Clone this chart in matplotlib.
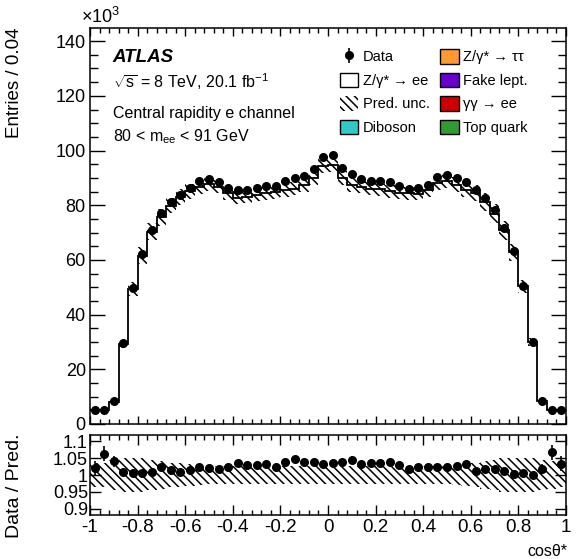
import matplotlib
matplotlib.use("Agg")
import matplotlib.pyplot as plt
from matplotlib.patches import Patch
from matplotlib.ticker import MultipleLocator, FuncFormatter
import numpy as np

plt.rcParams["font.family"] = ["Liberation Sans", "DejaVu Sans"]
plt.rcParams["mathtext.fontset"] = "custom"
plt.rcParams["mathtext.rm"] = "Liberation Sans"
plt.rcParams["mathtext.it"] = "Liberation Sans:italic"
plt.rcParams["mathtext.bf"] = "Liberation Sans:bold"
plt.rcParams["axes.unicode_minus"] = False
plt.rcParams["hatch.linewidth"] = 1.1

# 50 bins of width 0.04 in cos(theta*)
bin_edges = np.linspace(-1.0, 1.0, 51)

# entries in units of 10^3
data_k = [5.3, 5.3, 8.5, 29.5, 49.8, 62.0, 70.9, 77.3, 81.0, 83.7,
          86.4, 88.7, 89.6, 88.4, 86.3, 85.7, 85.4, 86.3, 87.1, 86.9,
          88.8, 90.1, 90.6, 93.4, 97.6, 98.2, 93.5, 91.4, 89.6, 89.0,
          88.8, 88.4, 86.9, 85.9, 86.2, 87.4, 90.2, 90.9, 90.0, 88.4,
          85.6, 82.6, 78.3, 71.7, 63.1, 50.6, 30.0, 8.5, 5.3, 5.3]
data_err_k = [0.11, 0.11, 0.13, 0.17, 0.22, 0.25, 0.27, 0.28, 0.28, 0.29,
              0.29, 0.30, 0.30, 0.30, 0.29, 0.29, 0.29, 0.29, 0.30, 0.29,
              0.30, 0.30, 0.30, 0.31, 0.31, 0.31, 0.31, 0.30, 0.30, 0.30,
              0.30, 0.30, 0.29, 0.29, 0.29, 0.30, 0.30, 0.30, 0.30, 0.30,
              0.29, 0.29, 0.28, 0.27, 0.25, 0.22, 0.17, 0.13, 0.11, 0.11]
pred_k = [5.20, 4.99, 8.17, 29.24, 49.45, 61.57, 70.27, 75.56, 79.88, 82.95,
          85.04, 86.54, 87.84, 86.84, 84.36, 82.72, 83.07, 83.79, 84.32, 84.78,
          85.55, 86.06, 87.28, 89.98, 94.48, 94.88, 90.08, 87.46, 86.74, 85.99,
          85.80, 85.16, 84.53, 84.38, 84.26, 85.43, 88.17, 88.86, 87.55, 85.74,
          84.58, 81.14, 76.92, 70.85, 62.85, 50.30, 30.03, 8.35, 4.97, 5.13]
# relative prediction uncertainty
pred_unc = [0.035, 0.035, 0.045, 0.050, 0.050, 0.050, 0.045, 0.040, 0.035, 0.035,
            0.032, 0.030, 0.028, 0.028, 0.028, 0.028, 0.028, 0.028, 0.028, 0.028,
            0.028, 0.028, 0.028, 0.028, 0.028, 0.028, 0.028, 0.028, 0.028, 0.028,
            0.028, 0.028, 0.028, 0.028, 0.028, 0.028, 0.028, 0.028, 0.030, 0.032,
            0.035, 0.040, 0.045, 0.050, 0.050, 0.050, 0.050, 0.045, 0.040, 0.035]

bkg_names = ["Diboson", "Z/γ* → ττ", "Fake lept.", "γγ → ee", "Top quark"]
bkg_colors = ["#33c9cc", "#ff9933", "#6600cc", "#cc0000", "#339933"]

centers = 0.5 * (bin_edges[1:] + bin_edges[:-1])
data = np.array(data_k)
err = np.array(data_err_k)
pred = np.array(pred_k)
unc = np.array(pred_unc)
hatch = "\\\\\\\\"

fig = plt.figure(figsize=(5.76, 5.59), dpi=100)
ax = fig.add_axes([90 / 576, 135 / 559, 476 / 576, 395.7 / 559])
rax = fig.add_axes([90 / 576, 44 / 559, 476 / 576, 80 / 559])

# main panel
ax.stairs(pred * (1 + unc), bin_edges, baseline=pred * (1 - unc), fill=True,
          facecolor="none", edgecolor="black", hatch=hatch, linewidth=0)
ax.stairs(pred, bin_edges, baseline=None, color="black", linewidth=1.3)
data_handle = ax.errorbar(centers, data, yerr=err, fmt="o", color="black",
                          ms=5.5, elinewidth=1.2, capsize=0)
ax.set_xlim(-1, 1)
ax.set_ylim(0, 144.7)

# ratio panel
rax.stairs(1 + unc, bin_edges, baseline=1 - unc, fill=True,
           facecolor="none", edgecolor="black", hatch=hatch, linewidth=0)
rax.errorbar(centers, data / pred, yerr=err / pred, fmt="o", color="black",
             ms=5.5, elinewidth=1.2, capsize=0)
rax.set_xlim(-1, 1)
rax.set_ylim(0.882, 1.118)

fmt = FuncFormatter(lambda v, p: f"{round(v, 2) + 0.0:g}")
for a in (ax, rax):
    a.xaxis.set_major_locator(MultipleLocator(0.2))
    a.xaxis.set_minor_locator(MultipleLocator(0.04))
    a.tick_params(which="both", direction="in", top=True, right=True, width=1)
    for s in a.spines.values():
        s.set_linewidth(1.1)

ax.yaxis.set_major_locator(MultipleLocator(20))
ax.yaxis.set_minor_locator(MultipleLocator(5))
ax.tick_params(axis="x", which="major", length=6, labelbottom=False)
ax.tick_params(axis="x", which="minor", length=3.5)
ax.tick_params(axis="y", which="major", length=10.5, labelsize=13, pad=3)
ax.tick_params(axis="y", which="minor", length=5.5)

rax.yaxis.set_major_locator(MultipleLocator(0.05))
rax.yaxis.set_major_formatter(fmt)
rax.xaxis.set_major_formatter(fmt)
rax.tick_params(axis="x", which="major", length=7, labelsize=13.5, pad=3)
rax.tick_params(axis="x", which="minor", length=3.5)
rax.tick_params(axis="y", which="major", length=8, labelsize=13, pad=1.5)

ax.text(-0.018, 1.004, "×10$^{3}$", transform=ax.transAxes, ha="left",
        va="bottom", fontsize=13)
fig.text(15 / 576, 1 - 28 / 559, "Entries / 0.04", rotation=90, ha="center",
         va="top", fontsize=13.5)
fig.text(15 / 576, 1 - 486 / 559, "Data / Pred.", rotation=90, ha="center",
         va="center", fontsize=14)
fig.text(567 / 576, 1 - 556 / 559, "cosθ*", ha="right", va="baseline",
         fontsize=11.5)

ax.text(0.048, 0.915, "ATLAS", transform=ax.transAxes, fontsize=13.5,
        fontweight="bold", fontstyle="italic")
ax.text(0.048, 0.849, r"$\sqrt{\mathrm{s}}$ = 8 TeV, 20.1 fb$^{-1}$",
        transform=ax.transAxes, fontsize=11.5)
ax.text(0.048, 0.773, "Central rapidity e channel", transform=ax.transAxes,
        fontsize=11.5)
ax.text(0.048, 0.715, r"80 < m$_{\mathrm{ee}}$ < 91 GeV", transform=ax.transAxes,
        fontsize=11.5)

handles = [data_handle,
           Patch(facecolor="white", edgecolor="black", linewidth=1),
           Patch(facecolor="white", edgecolor="black", hatch=hatch, linewidth=0),
           Patch(facecolor=bkg_colors[0], edgecolor="black", linewidth=1)]
labels = ["Data", "Z/γ* → ee", "Pred. unc.", bkg_names[0]]
for name, col in zip(bkg_names[1:], bkg_colors[1:]):
    handles.append(Patch(facecolor=col, edgecolor="black", linewidth=1))
    labels.append(name)
ax.legend(handles, labels, ncol=2, loc="upper left",
          bbox_to_anchor=(0.525, 0.947), frameon=False, fontsize=10.5,
          borderpad=0, borderaxespad=0, handlelength=1.25, handleheight=1.15,
          handletextpad=0.3, columnspacing=0.75, labelspacing=0.57)

fig.savefig("out.png", dpi=100)
